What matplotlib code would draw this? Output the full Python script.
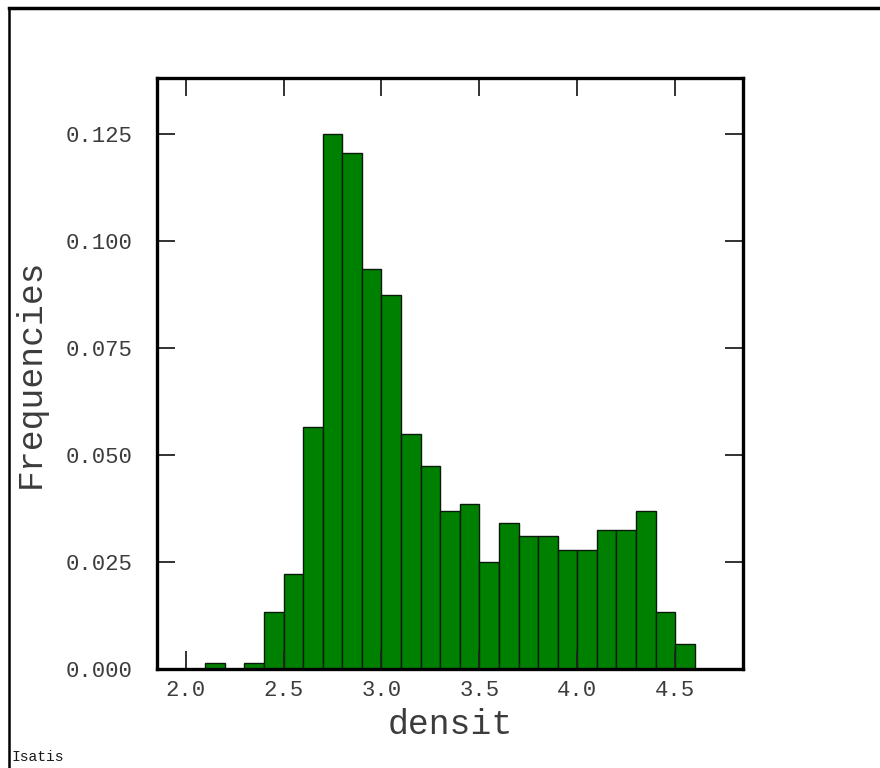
# histogramme densit (Isatis)
import matplotlib
matplotlib.use("Agg")
import matplotlib.pyplot as plt
from matplotlib.lines import Line2D

# classes (bord gauche) et frequences
bin_left = [2.1, 2.3, 2.4, 2.5, 2.6, 2.7, 2.8, 2.9, 3.0, 3.1, 3.2, 3.3, 3.4,
            3.5, 3.6, 3.7, 3.8, 3.9, 4.0, 4.1, 4.2, 4.3, 4.4, 4.5]
freq = [0.0014, 0.0014, 0.0134, 0.0221, 0.0565, 0.1250, 0.1205, 0.0934,
        0.0875, 0.0549, 0.0474, 0.0369, 0.0385, 0.0249, 0.0340, 0.0310,
        0.0310, 0.0279, 0.0279, 0.0324, 0.0324, 0.0369, 0.0134, 0.0058]
bin_width = 0.1

xticks = [2.0, 2.5, 3.0, 3.5, 4.0, 4.5]
yticks = [0.000, 0.025, 0.050, 0.075, 0.100, 0.125]

FONT = "Liberation Mono"
TXT = "#3c3c3c"

fig = plt.figure(figsize=(8.8, 7.68), dpi=100)
ax = fig.add_axes([157/880, 1 - 669/768, (743-157)/880, (669-78)/768])

ax.bar(bin_left, freq, width=bin_width, align="edge",
       color="#008000", edgecolor="#0a1a0a", linewidth=1.0)

ax.set_xlim(1.853, 4.847)
ax.set_ylim(0, 0.1381)
ax.set_xticks(xticks)
ax.set_xticklabels([f"{t:.1f}" for t in xticks], fontfamily=FONT, fontsize=16, color=TXT)
ax.set_yticks(yticks)
ax.set_yticklabels([f"{t:.3f}" for t in yticks], fontfamily=FONT, fontsize=16, color=TXT)
ax.tick_params(axis="both", which="major", direction="in", length=13, width=1.3,
               top=True, right=True, color="#222222")
ax.tick_params(axis="y", pad=18)
ax.tick_params(axis="x", pad=8)
for sp in ax.spines.values():
    sp.set_linewidth(2.4)
    sp.set_color("black")

ax.set_xlabel("densit", fontfamily=FONT, fontsize=25, color=TXT, labelpad=5)
ax.set_ylabel("Frequencies", fontfamily=FONT, fontsize=25, color=TXT)
ax.yaxis.set_label_coords(-110/586, 0.5)

# cadre de la fenetre
fig.add_artist(Line2D([9/880, 1], [1 - 8/768, 1 - 8/768], color="black", linewidth=2.5))
fig.add_artist(Line2D([9/880, 9/880], [0, 1 - 8/768], color="black", linewidth=1.8))

fig.text(11/880, 1 - 757/768, "Isatis", fontfamily=FONT, fontsize=10.5,
         color="#1a1a1a", va="center", ha="left")

fig.savefig("out.png", dpi=100)
plt.close(fig)
